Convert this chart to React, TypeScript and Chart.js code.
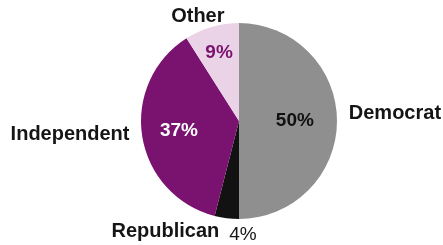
import React, { useEffect, useRef } from "react";
import { Chart, registerables } from "chart.js";

Chart.register(...registerables);

const categories = ["Democrat", "Republican", "Independent", "Other"];
const values = [50, 4, 37, 9];
const percentLabels = ["50%", "4%", "37%", "9%"];
const sliceColors = ["#8f8f8f", "#121212", "#7a1270", "#ead3e6"];

// label styling / placement (relative to each slice's mid-angle)
const FONT = "'Liberation Sans', Arial, sans-serif";
const innerStyle: Record<string, { r: number; color: string; weight: string } | null> = {
  Democrat: { r: 0.57, color: "#111111", weight: "bold" },
  Republican: null,
  Independent: { r: 0.62, color: "#ffffff", weight: "bold" },
  Other: { r: 0.73, color: "#7a1270", weight: "bold" },
};
const outerStyle: Record<string, { r: number; align: CanvasTextAlign; dx: number; dy: number }> = {
  Democrat: { r: 1.1, align: "left", dx: 2, dy: -8 },
  Republican: { r: 1.12, align: "right", dx: -6, dy: 2 },
  Independent: { r: 1.09, align: "right", dx: -4, dy: -3 },
  Other: { r: 1.14, align: "center", dx: -10, dy: 3 },
};

const labelPlugin = {
  id: "pieLabels",
  afterDatasetsDraw(chart: any) {
    const ctx: CanvasRenderingContext2D = chart.ctx;
    const meta = chart.getDatasetMeta(0);
    ctx.save();
    ctx.textBaseline = "middle";
    meta.data.forEach((arc: any, i: number) => {
      const p = arc.getProps(["x", "y", "startAngle", "endAngle", "outerRadius"], true);
      const mid = (p.startAngle + p.endAngle) / 2;
      const cx = Math.cos(mid);
      const cy = Math.sin(mid);
      const name = categories[i];
      const inner = innerStyle[name];
      if (inner) {
        ctx.font = `${inner.weight} 19px ${FONT}`;
        ctx.fillStyle = inner.color;
        ctx.textAlign = "center";
        ctx.fillText(percentLabels[i], p.x + cx * p.outerRadius * inner.r, p.y + cy * p.outerRadius * inner.r);
      }
      const o = outerStyle[name];
      const ox = p.x + cx * p.outerRadius * o.r + o.dx;
      const oy = p.y + cy * p.outerRadius * o.r + o.dy;
      ctx.font = `bold 20px ${FONT}`;
      ctx.fillStyle = "#151515";
      ctx.textAlign = o.align;
      ctx.fillText(name, ox, oy);
      if (!inner) {
        ctx.font = `normal 19px ${FONT}`;
        ctx.textAlign = "left";
        ctx.fillText(percentLabels[i], ox + 10, oy + 3);
      }
    });
    ctx.restore();
  },
};

export default function App() {
  const ref = useRef<HTMLCanvasElement | null>(null);
  useEffect(() => {
    if (!ref.current) return;
    const chart = new Chart(ref.current, {
      type: "pie",
      data: {
        labels: categories,
        datasets: [
          {
            data: values,
            backgroundColor: sliceColors,
            borderWidth: 0,
          },
        ],
      },
      options: {
        responsive: false,
        animation: false,
        devicePixelRatio: 1,
        layout: { padding: { left: 141, right: 106, top: 23, bottom: 26 } },
        plugins: {
          legend: { display: false },
          tooltip: { enabled: false },
        },
      },
      plugins: [labelPlugin],
    });
    return () => chart.destroy();
  }, []);
  return (
    <div style={{ position: "fixed", left: 0, top: 0, width: 443, height: 245, background: "#ffffff" }}>
      <canvas ref={ref} width={443} height={245} />
    </div>
  );
}
